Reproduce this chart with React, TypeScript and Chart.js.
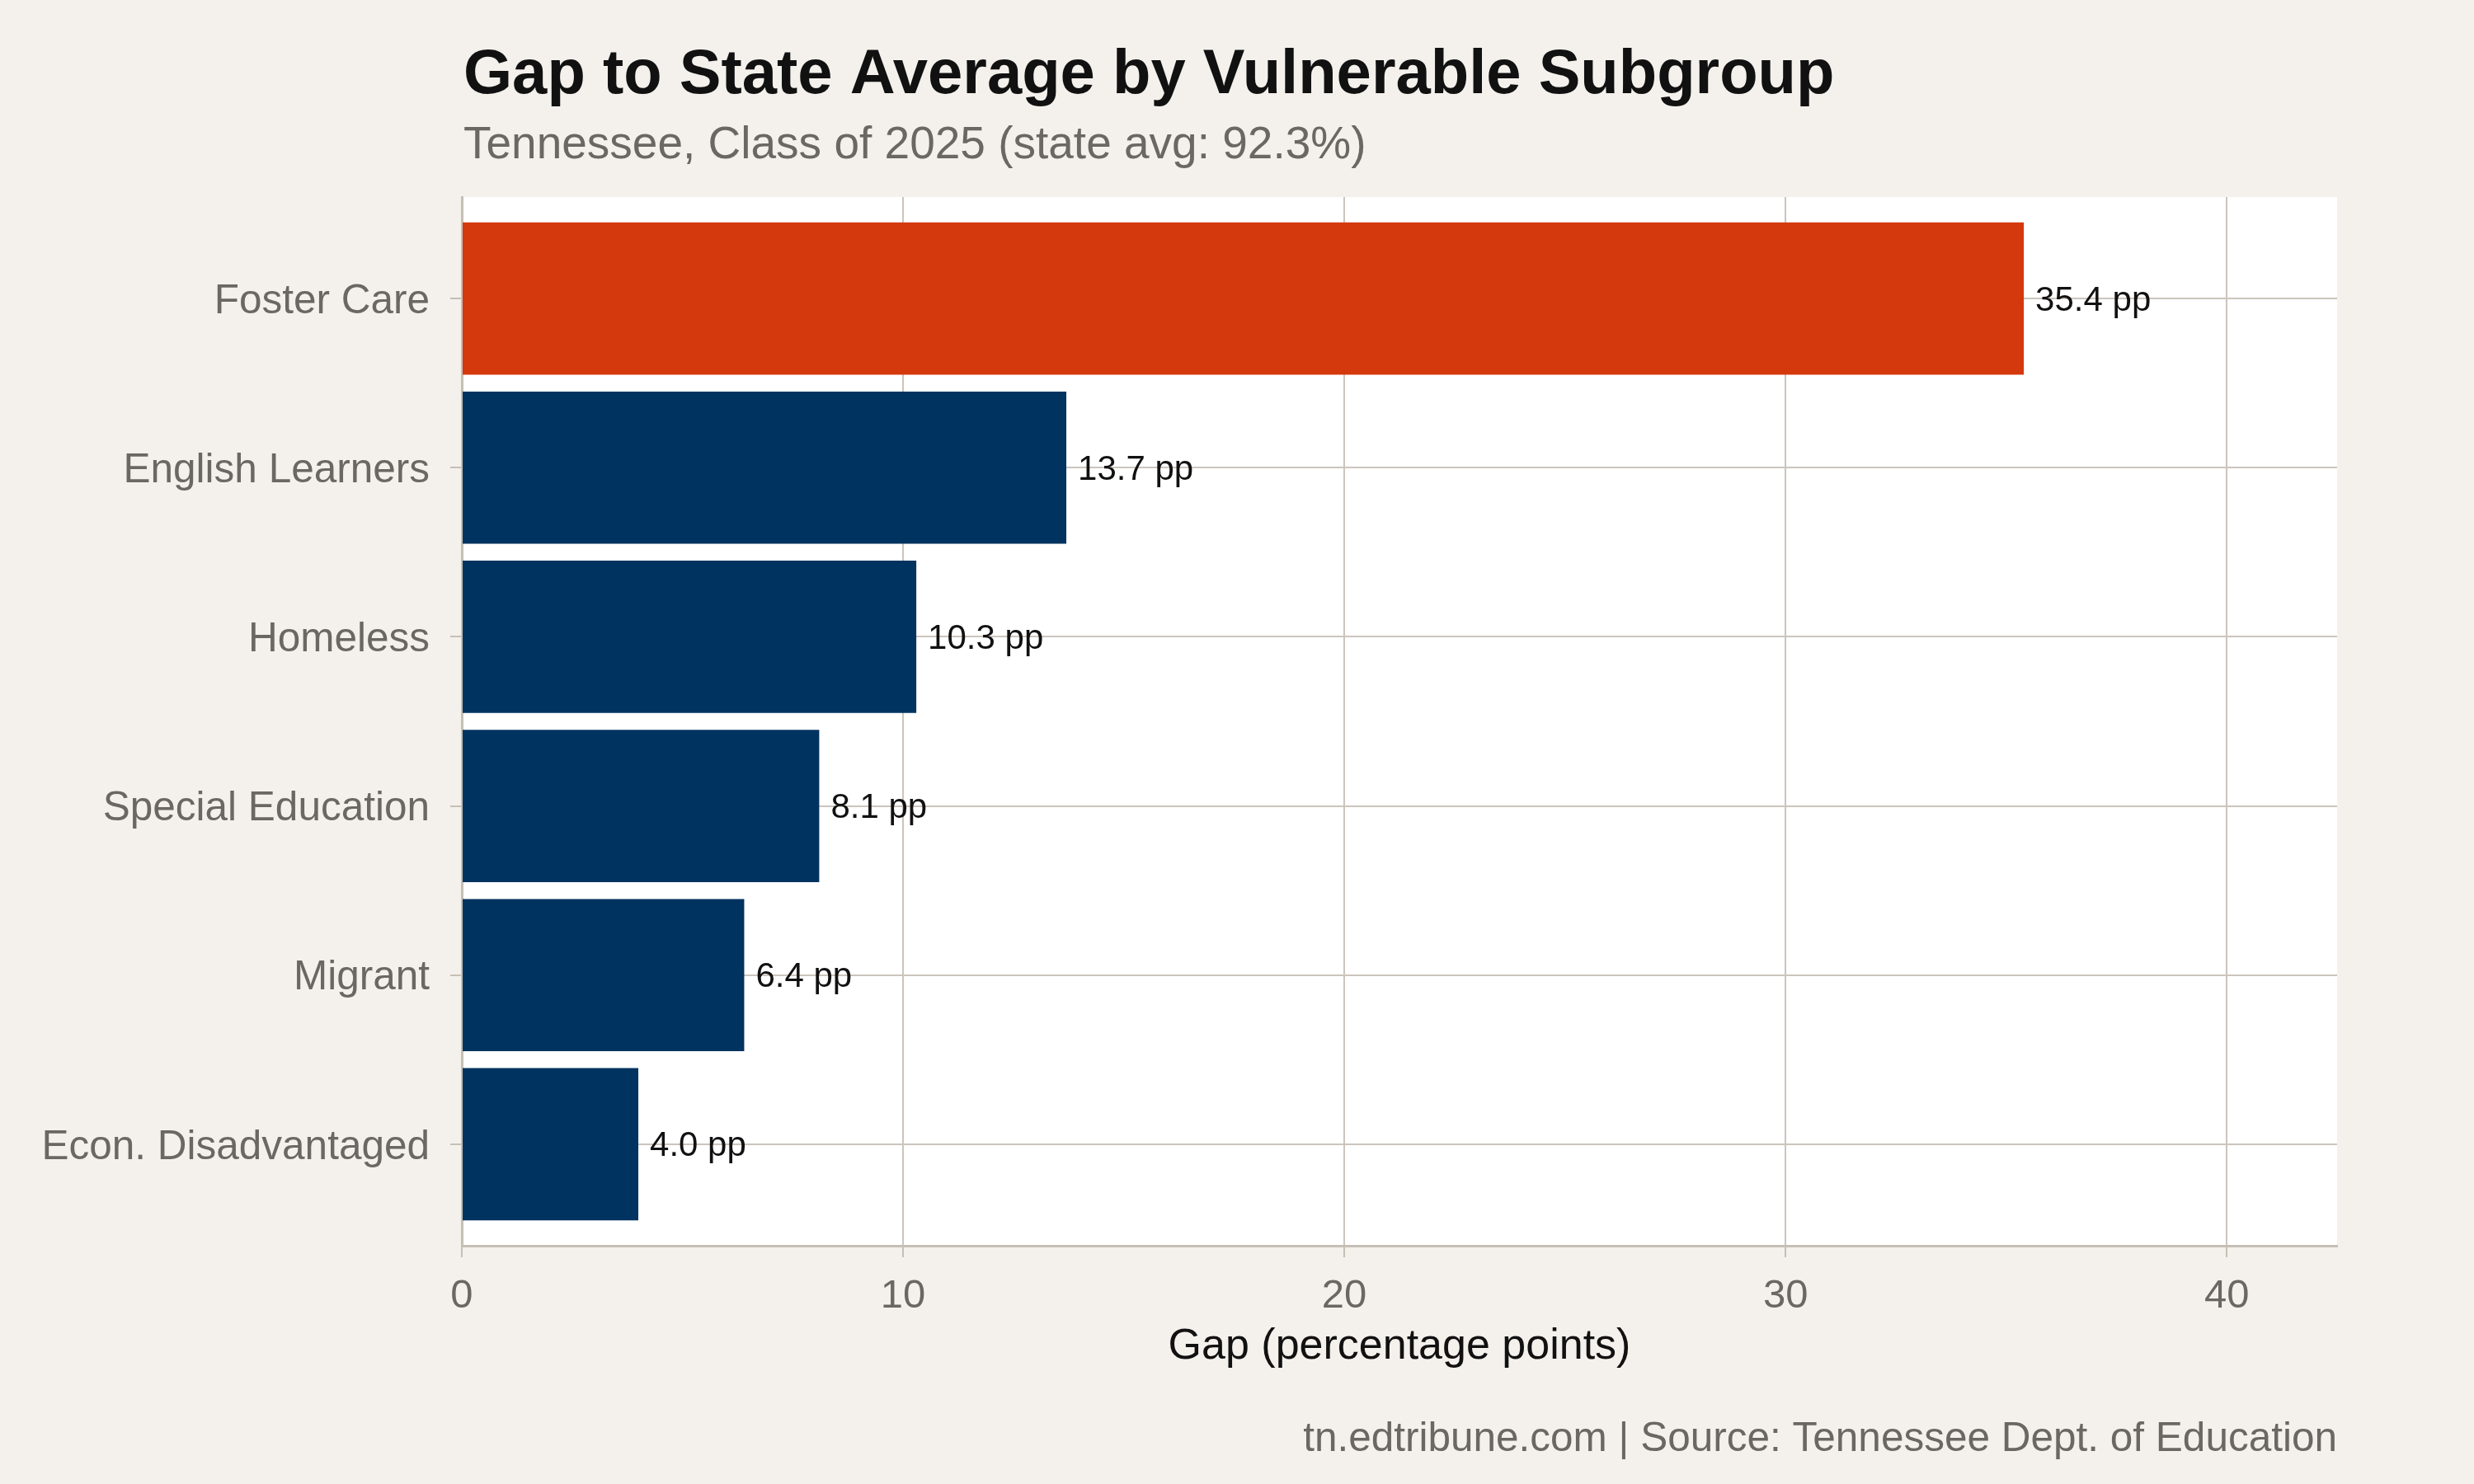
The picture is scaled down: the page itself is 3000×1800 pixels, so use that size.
import { useEffect, useRef } from "react";
import { Chart, registerables } from "chart.js";

Chart.register(...registerables);

const categories = [
  "Foster Care",
  "English Learners",
  "Homeless",
  "Special Education",
  "Migrant",
  "Econ. Disadvantaged",
];
const gaps = [35.4, 13.7, 10.3, 8.1, 6.4, 4.0];
const barColors = ["#D4380D", "#00335F", "#00335F", "#00335F", "#00335F", "#00335F"];
const xTicks = [0, 10, 20, 30, 40];

const FONT = '"Liberation Sans", Arial, Helvetica, sans-serif';
const BG = "#F4F1EC";
const GRID = "#CBC5BC";
const AXIS = "#C6BFB5";
const GREY = "#6B6762";

export default function App() {
  const chartRef = useRef<HTMLCanvasElement>(null);
  const chartInstance = useRef<Chart | null>(null);

  useEffect(() => {
    document.body.style.margin = "0";
    if (!chartRef.current) return;
    if (chartInstance.current) chartInstance.current.destroy();
    const ctx = chartRef.current.getContext("2d");
    if (!ctx) return;

    // backgrounds, titles, caption and value labels
    const decor = {
      id: "decor",
      beforeDraw(chart: any) {
        const c = chart.ctx;
        const a = chart.chartArea;
        c.save();
        c.fillStyle = BG;
        c.fillRect(0, 0, chart.width, chart.height);
        c.fillStyle = "#FFFFFF";
        c.fillRect(a.left, a.top, a.right - a.left, a.bottom - a.top);
        c.restore();
      },
      afterDatasetsDraw(chart: any) {
        const c = chart.ctx;
        const meta = chart.getDatasetMeta(0);
        c.save();
        c.font = `42px ${FONT}`;
        c.fillStyle = "#111111";
        c.textAlign = "left";
        c.textBaseline = "middle";
        meta.data.forEach((bar: any, i: number) => {
          c.fillText(`${gaps[i].toFixed(1)} pp`, bar.x + 14, bar.y + 3);
        });
        c.restore();
      },
      afterDraw(chart: any) {
        const c = chart.ctx;
        const a = chart.chartArea;
        c.save();
        c.textBaseline = "alphabetic";
        c.textAlign = "left";
        c.fillStyle = "#111111";
        c.font = `bold 76px ${FONT}`;
        c.fillText("Gap to State Average by Vulnerable Subgroup", a.left + 2, 113);
        c.fillStyle = GREY;
        c.font = `55px ${FONT}`;
        c.fillText("Tennessee, Class of 2025 (state avg: 92.3%)", a.left + 2, 192);
        c.textAlign = "right";
        c.font = `49.5px ${FONT}`;
        c.fillText("tn.edtribune.com | Source: Tennessee Dept. of Education", a.right, 1760);
        c.restore();
      },
    };

    chartInstance.current = new Chart(ctx, {
      type: "bar",
      data: {
        datasets: [
          {
            data: gaps.map((g, i) => ({ x: g, y: i })),
            backgroundColor: barColors,
            borderWidth: 0,
            barPercentage: 0.9,
            categoryPercentage: 1,
          },
        ],
      },
      options: {
        indexAxis: "y",
        animation: false,
        responsive: false,
        devicePixelRatio: 1,
        layout: { padding: { top: 239, right: 166, bottom: 0, left: 0 } },
        plugins: {
          legend: { display: false },
          tooltip: { enabled: false },
        },
        scales: {
          x: {
            type: "linear",
            min: 0,
            max: 42.5,
            afterFit: (scale: any) => {
              scale.height = 289;
            },
            afterBuildTicks: (scale: any) => {
              scale.ticks = xTicks.map((v) => ({ value: v }));
            },
            grid: {
              color: GRID,
              lineWidth: 2,
              tickLength: 14,
              tickColor: AXIS,
              tickWidth: 2,
            },
            border: { display: true, color: AXIS, width: 3 },
            ticks: {
              color: GREY,
              padding: 18,
              font: { family: FONT, size: 49 },
            },
            title: {
              display: true,
              text: "Gap (percentage points)",
              color: "#111111",
              font: { family: FONT, size: 52 },
              padding: { top: 0, bottom: 135 },
            },
          },
          y: {
            type: "linear",
            min: -0.6,
            max: 5.6,
            reverse: true,
            offset: false,
            afterFit: (scale: any) => {
              scale.width = 560;
            },
            afterBuildTicks: (scale: any) => {
              scale.ticks = categories.map((_, i) => ({ value: i }));
            },
            grid: {
              offset: false,
              color: GRID,
              lineWidth: 2,
              tickLength: 14,
              tickColor: AXIS,
              tickWidth: 2,
            },
            border: { display: true, color: AXIS, width: 3 },
            ticks: {
              color: GREY,
              padding: 25,
              labelOffset: 4,
              font: { family: FONT, size: 49.5 },
              callback: (v: any) => categories[v as number],
            },
          },
        },
      },
      plugins: [decor],
    } as any);

    return () => {
      if (chartInstance.current) {
        chartInstance.current.destroy();
        chartInstance.current = null;
      }
    };
  }, []);

  return (
    <div style={{ width: 3000, height: 1800, background: BG }}>
      <canvas ref={chartRef} width={3000} height={1800}></canvas>
    </div>
  );
}
